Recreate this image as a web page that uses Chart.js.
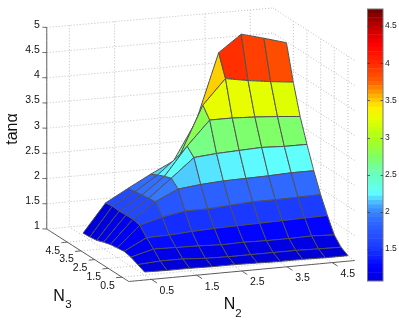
<!DOCTYPE html>
<html>
<head>
<meta charset="utf-8">
<title>tan alpha surface</title>
<script src="https://cdn.jsdelivr.net/npm/chart.js@4"></script>
<style>
    html, body { margin: 0; padding: 0; background: #fff; }
    #wrap { position: relative; width: 399px; height: 322px; overflow: hidden; }
    #surface { position: absolute; left: 0; top: 0; }
    #colorbar { position: absolute; left: 360px; top: 0; }
</style>
</head>
<body>
<div id="wrap">
    <canvas id="surface" width="399" height="322"></canvas>
    <canvas id="colorbar" width="39" height="322"></canvas>
</div>
<script>
// grid of the surface
const n2Values = [0.5, 1, 1.5, 2, 2.5, 3, 3.5, 4, 4.5, 5];
const n3Values = [0.5, 1, 1.5, 2, 2.5, 3, 3.5, 4, 4.5, 5];

// tan(alpha), one list per N3 value
const tanAtN3_0_5 = [1.06, 1.05, 1.05, 1.04, 1.04, 1.03, 1.02, 1.02, 1.01, 1.01];
const tanAtN3_1_0 = [1.12, 1.15, 1.15, 1.12, 1.11, 1.11, 1.11, 1.11, 1.10, 1.09];
const tanAtN3_1_5 = [1.18, 1.30, 1.29, 1.28, 1.26, 1.27, 1.26, 1.26, 1.27, 1.25];
const tanAtN3_2_0 = [1.21, 1.44, 1.45, 1.48, 1.50, 1.51, 1.52, 1.53, 1.54, 1.55];
const tanAtN3_2_5 = [1.19, 1.60, 1.72, 1.80, 1.80, 1.83, 1.86, 1.86, 1.87, 1.88];
const tanAtN3_3_0 = [1.17, 1.63, 1.94, 2.15, 2.20, 2.23, 2.24, 2.25, 2.27, 2.27];
const tanAtN3_3_5 = [1.13, 1.63, 1.92, 2.28, 2.65, 2.69, 2.71, 2.73, 2.71, 2.71];
const tanAtN3_4_0 = [1.08, 1.62, 1.90, 2.23, 2.79, 3.27, 3.27, 3.25, 3.22, 3.18];
const tanAtN3_4_5 = [1.06, 1.63, 1.88, 2.17, 2.54, 3.48, 3.97, 3.89, 3.83, 3.78];
const tanAtN3_5_0 = [1.05, 1.61, 1.86, 2.10, 2.32, 3.07, 4.40, 4.73, 4.61, 4.48];
const tanRows = [tanAtN3_0_5, tanAtN3_1_0, tanAtN3_1_5, tanAtN3_2_0, tanAtN3_2_5,
    tanAtN3_3_0, tanAtN3_3_5, tanAtN3_4_0, tanAtN3_4_5, tanAtN3_5_0];

// axis ticks
const n2Ticks = [0.5, 1.5, 2.5, 3.5, 4.5];
const n3Ticks = [0.5, 1.5, 2.5, 3.5, 4.5];
const zTicks = [1, 1.5, 2, 2.5, 3, 3.5, 4, 4.5, 5];
const colorbarTicks = [1.5, 2, 2.5, 3, 3.5, 4, 4.5];

// colormap of the figure
const cmapValues = [1.05, 1.25, 1.5, 1.9, 2.05, 2.25, 2.5, 2.75, 3, 3.25, 3.4, 3.5, 3.75, 4, 4.25, 4.5, 4.73];
const cmapColors = [[0, 0, 215], [0, 0, 255], [25, 55, 255], [50, 110, 255], [60, 150, 255], [95, 255, 255],
    [105, 255, 190], [130, 255, 95], [175, 255, 20], [228, 255, 0], [255, 240, 0], [255, 200, 0],
    [255, 95, 0], [255, 40, 0], [255, 0, 0], [190, 0, 0], [105, 0, 0]];

const FONT = '"Liberation Sans", Arial, sans-serif';
const N2_MAX = 5, N3_MAX = 6, Z_MIN = 1, Z_MAX = 5;
const COLORBAR_MIN = 1.07, COLORBAR_MAX = 4.73, COLORBAR_LEVELS = 64;

// fixed 3d view, maps data to the plane the x/y scales of the chart use
function project(n2, n3, z) {
    return {
        x: 128.8 + 45.2 * n2 - 13.67 * n3,
        y: 281.5 - (4.2 - 0.08 * (z - Z_MIN)) * n2 - 8.75 * n3 - 50.4 * (z - Z_MIN)
    };
}

function colormap(v) {
    let i = 0;
    while (i < cmapValues.length - 2 && v > cmapValues[i + 1]) i++;
    const t = Math.max(0, Math.min(1, (v - cmapValues[i]) / (cmapValues[i + 1] - cmapValues[i])));
    const rgb = cmapColors[i].map((a, k) => Math.round(a + (cmapColors[i + 1][k] - a) * t));
    return `rgb(${rgb[0]},${rgb[1]},${rgb[2]})`;
}

function lineSet(points, color, dash) {
    return {
        type: 'scatter',
        showLine: true,
        data: points,
        borderColor: color,
        borderWidth: 1,
        borderDash: dash || [],
        pointRadius: 0,
        fill: false,
        tension: 0.0001
    };
}

const dotted = [1, 2];
const wallColor = '#bcbcbc';
const axisColor = '#5a5a5a';
const meshColor = '#505050';
const paintOrder = [];

// dotted grid on the two walls and the floor
zTicks.forEach(z => {
    paintOrder.push(lineSet([project(0, N3_MAX, z), project(N2_MAX, N3_MAX, z)], wallColor, dotted));
    paintOrder.push(lineSet([project(N2_MAX, N3_MAX, z), project(N2_MAX, 0, z)], wallColor, dotted));
});
n2Ticks.forEach(n2 => {
    paintOrder.push(lineSet([project(n2, N3_MAX, Z_MAX), project(n2, N3_MAX, Z_MIN), project(n2, 0, Z_MIN)], wallColor, dotted));
});
n3Ticks.forEach(n3 => {
    paintOrder.push(lineSet([project(N2_MAX, n3, Z_MAX), project(N2_MAX, n3, Z_MIN), project(0, n3, Z_MIN)], wallColor, dotted));
});

// solid axes and their tick marks
paintOrder.push(lineSet([project(0, N3_MAX, Z_MAX), project(0, N3_MAX, Z_MIN), project(0, 0, Z_MIN), project(N2_MAX, 0, Z_MIN)], axisColor));
zTicks.forEach(z => {
    paintOrder.push(lineSet([project(0, N3_MAX, z), project(-0.08, N3_MAX + 0.05, z)], axisColor));
});
n2Ticks.forEach(n2 => {
    paintOrder.push(lineSet([project(n2, 0, Z_MIN), project(n2, -0.4, Z_MIN)], axisColor));
});
n3Ticks.forEach(n3 => {
    paintOrder.push(lineSet([project(0, n3, Z_MIN), project(-0.13, n3, Z_MIN)], axisColor));
});

// surface facets, far ones first so that nearer ones cover them
for (let r = n3Values.length - 2; r >= 0; r--) {
    for (let c = 0; c < n2Values.length - 1; c++) {
        const corners = [[r, c], [r, c + 1], [r + 1, c + 1], [r + 1, c], [r, c]];
        const facet = lineSet(corners.map(([i, j]) => project(n2Values[j], n3Values[i], tanRows[i][j])), meshColor);
        facet.fill = 'shape';
        facet.backgroundColor = colormap(tanRows[r][c]);
        paintOrder.push(facet);
    }
}

const axisText = {
    id: 'axisText',
    afterDraw(chart) {
        const ctx = chart.ctx;
        const sx = chart.scales.x, sy = chart.scales.y;
        const put = (text, p, dx, dy, size, align) => {
            ctx.font = `${size}px ${FONT}`;
            ctx.textAlign = align || 'center';
            ctx.textBaseline = 'middle';
            ctx.fillText(text, sx.getPixelForValue(p.x) + dx, sy.getPixelForValue(p.y) + dy);
        };
        ctx.save();
        ctx.fillStyle = '#111';
        zTicks.forEach(z => put(String(z), project(0, N3_MAX, z), -7, -2.5, 10.5, 'right'));
        n2Ticks.forEach(n2 => put(n2.toFixed(1), project(n2, 0, Z_MIN), 15.5, 11.5, 10.5));
        n3Ticks.forEach(n3 => put(n3.toFixed(1), project(0, n3, Z_MIN), -14.5, 8.5, 10.5));

        put('N', { x: 59, y: 297 }, 0, 0, 16);
        put('3', { x: 68.5, y: 305 }, 0, 0, 11.5);
        put('N', { x: 229.5, y: 305 }, 0, 0, 16);
        put('2', { x: 238.5, y: 314 }, 0, 0, 11.5);

        ctx.translate(sx.getPixelForValue(13), sy.getPixelForValue(129));
        ctx.rotate(-Math.PI / 2);
        ctx.font = `16px ${FONT}`;
        ctx.textAlign = 'center';
        ctx.textBaseline = 'middle';
        ctx.fillText('tan\u03b1', 0, 0);
        ctx.restore();
    }
};

new Chart(document.getElementById('surface').getContext('2d'), {
    data: { datasets: paintOrder.reverse() },
    plugins: [axisText],
    options: {
        responsive: false,
        animation: false,
        layout: { padding: 0 },
        plugins: {
            legend: { display: false },
            tooltip: { enabled: false },
            filler: { propagate: false, drawTime: 'beforeDatasetDraw' }
        },
        scales: {
            x: { type: 'linear', display: false, min: 0, max: 399 },
            y: { type: 'linear', display: false, min: 0, max: 322, reverse: true }
        }
    }
});

// colorbar, one floating bar per colormap level
const levelStep = (COLORBAR_MAX - COLORBAR_MIN) / COLORBAR_LEVELS;
const colorbarSets = [];
for (let i = 0; i < COLORBAR_LEVELS; i++) {
    const low = COLORBAR_MIN + i * levelStep;
    colorbarSets.push({
        data: [[low, low + levelStep]],
        backgroundColor: colormap(low + levelStep / 2),
        borderWidth: 0,
        grouped: false,
        barPercentage: 1,
        categoryPercentage: 1
    });
}

const colorbarFrame = {
    id: 'colorbarFrame',
    afterDraw(chart) {
        const { ctx, chartArea: a, scales } = chart;
        ctx.save();
        ctx.strokeStyle = '#777';
        ctx.lineWidth = 1;
        ctx.strokeRect(a.left, a.top, a.right - a.left, a.bottom - a.top);
        ctx.strokeStyle = 'rgba(50,50,50,0.7)';
        colorbarTicks.forEach(t => {
            const y = Math.round(scales.y.getPixelForValue(t)) + 0.5;
            ctx.beginPath();
            ctx.moveTo(a.left, y);
            ctx.lineTo(a.left + 2.5, y);
            ctx.moveTo(a.right - 2.5, y);
            ctx.lineTo(a.right, y);
            ctx.stroke();
        });
        ctx.restore();
    }
};

new Chart(document.getElementById('colorbar').getContext('2d'), {
    type: 'bar',
    data: { labels: ['tan'], datasets: colorbarSets },
    plugins: [colorbarFrame],
    options: {
        responsive: false,
        animation: false,
        layout: { padding: { left: 7.5, top: 9, bottom: 41, right: 0 } },
        plugins: { legend: { display: false }, tooltip: { enabled: false } },
        scales: {
            x: { display: false },
            y: {
                position: 'right',
                min: COLORBAR_MIN,
                max: COLORBAR_MAX,
                afterBuildTicks: scale => {
                    scale.ticks = colorbarTicks.map(value => ({ value }));
                },
                afterFit: scale => { scale.width = 16; },
                grid: { display: false, drawTicks: false },
                border: { display: false },
                ticks: {
                    padding: 2,
                    color: '#222',
                    font: { family: FONT, size: 8.5 },
                    callback: v => String(v)
                }
            }
        }
    }
});
</script>
</body>
</html>
